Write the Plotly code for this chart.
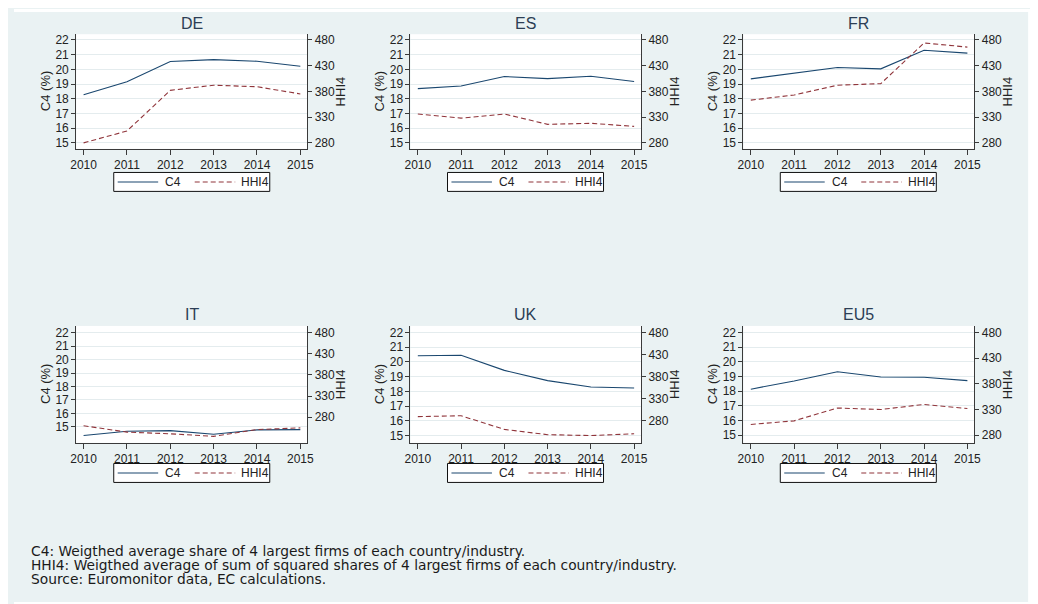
import plotly.graph_objects as go

# ---------------- data ----------------
years = [2010, 2011, 2012, 2013, 2014, 2015]
panels = ["DE", "ES", "FR", "IT", "UK", "EU5"]

c4_de = [18.27, 19.15, 20.53, 20.66, 20.55, 20.21]
hhi4_de = [280, 303, 382, 392, 389, 375]
c4_es = [18.69, 18.87, 19.51, 19.37, 19.53, 19.17]
hhi4_es = [336, 328, 336, 316, 318, 312]
c4_fr = [19.35, 19.71, 20.12, 20.03, 21.30, 21.10]
hhi4_fr = [363, 373, 392, 395, 474, 466]
c4_it = [14.36, 14.68, 14.73, 14.46, 14.78, 14.80]
hhi4_it = [260, 245, 241, 235, 251, 255]
c4_uk = [20.42, 20.46, 19.43, 18.73, 18.30, 18.23]
hhi4_uk = [289, 291, 260, 248, 246, 250]
c4_eu5 = [18.14, 18.70, 19.33, 18.97, 18.95, 18.72]
hhi4_eu5 = [301, 308, 333, 330, 340, 332]

c4_series = [c4_de, c4_es, c4_fr, c4_it, c4_uk, c4_eu5]
hhi4_series = [hhi4_de, hhi4_es, hhi4_fr, hhi4_it, hhi4_uk, hhi4_eu5]

c4_ticks = [15, 16, 17, 18, 19, 20, 21, 22]
hhi4_ticks = [280, 330, 380, 430, 480]

series_names = ["C4", "HHI4"]

footnotes = [
    "C4: Weigthed average share of 4 largest firms of each country/industry.",
    "HHI4: Weigthed average of sum of squared shares of 4 largest firms of each country/industry.",
    "Source: Euromonitor data, EC calculations.",
]

# ---------------- layout geometry (page pixels) ----------------
W, H = 1038, 604
OFF = 8  # page body margin before the figure starts
col_px = [(71, 305), (409.5, 643), (746.7, 980.5)]
row_px = [(33.3, 148.3), (326, 443.3)]
left_ranges = [[14.594, 22.386], [14.594, 22.386], [14.594, 22.386],
               [13.82, 22.49], [14.50, 22.45], [14.48, 22.45]]
right_ranges = [[268.4, 491.0], [268.4, 491.0], [268.4, 491.0],
                [219.6, 495.7], [229.4, 495.1], [265.1, 492.9]]
x_range = [2009.83, 2015.16]
legend_px = [(109, 172), (447, 172), (784, 172), (109, 464), (447, 464), (784, 464)]

C4_COLOR = "#1a476f"
HHI_COLOR = "#90353b"
DASH = "5px,3px"
BG = "#EAF2F3"
AXIS_COLOR = "#3a3a3a"
FONT = "Liberation Sans, Arial, sans-serif"
TXT = "#222222"


def fx(px):
    return (px - OFF) / W


def fy(py):
    return 1 - (py - OFF) / H


fig = go.Figure()
layout = dict(
    width=W, height=H,
    margin=dict(l=0, r=0, t=0, b=0),
    paper_bgcolor=BG,
    plot_bgcolor="white",
    font=dict(family=FONT, size=12, color=TXT),
    showlegend=False,
    annotations=[],
    shapes=[],
)

for i, name in enumerate(panels):
    r, c = divmod(i, 3)
    xn = i + 1
    yl = 2 * i + 1
    yr = 2 * i + 2
    xref = "x" if xn == 1 else f"x{xn}"
    ylref = "y" if yl == 1 else f"y{yl}"
    yrref = f"y{yr}"
    xkey = "xaxis" if xn == 1 else f"xaxis{xn}"
    ylkey = "yaxis" if yl == 1 else f"yaxis{yl}"
    yrkey = f"yaxis{yr}"

    x0, x1 = col_px[c]
    y0, y1 = row_px[r]
    xdom = [fx(x0), fx(x1)]
    ydom = [fy(y1), fy(y0)]

    layout[xkey] = dict(
        domain=xdom, anchor=ylref, range=x_range,
        tickmode="array", tickvals=years, ticktext=[str(y) for y in years],
        ticks="outside", ticklen=5, tickcolor=AXIS_COLOR,
        showline=True, linecolor=AXIS_COLOR, linewidth=1,
        showgrid=False, zeroline=False,
        tickfont=dict(size=12, color=TXT, family=FONT),
    )
    layout[ylkey] = dict(
        domain=ydom, anchor=xref, range=left_ranges[i], side="left",
        tickmode="array", tickvals=c4_ticks,
        ticks="outside", ticklen=4, tickcolor=AXIS_COLOR,
        showline=True, linecolor=AXIS_COLOR, linewidth=1,
        showgrid=True, gridcolor="#E4ECEE", gridwidth=1, zeroline=False,
        tickfont=dict(size=12, color=TXT, family=FONT),
    )
    layout[yrkey] = dict(
        overlaying=ylref, anchor=xref, range=right_ranges[i], side="right",
        tickmode="array", tickvals=hhi4_ticks,
        ticks="outside", ticklen=4, tickcolor=AXIS_COLOR,
        showline=True, linecolor=AXIS_COLOR, linewidth=1,
        showgrid=False, zeroline=False,
        tickfont=dict(size=12, color=TXT, family=FONT),
    )

    fig.add_trace(go.Scatter(
        x=years, y=c4_series[i], mode="lines", name=series_names[0],
        line=dict(color=C4_COLOR, width=1.1),
        xaxis=xref, yaxis=ylref,
    ))
    fig.add_trace(go.Scatter(
        x=years, y=hhi4_series[i], mode="lines", name=series_names[1],
        line=dict(color=HHI_COLOR, width=1.1, dash=DASH),
        xaxis=xref, yaxis=yrref,
    ))

    # panel title
    layout["annotations"].append(dict(
        text=name, x=fx((x0 + x1) / 2), y=fy(y0 - 11), xref="paper", yref="paper",
        xanchor="center", yanchor="middle", showarrow=False,
        font=dict(size=16, color="#2c3e55", family=FONT),
    ))
    # left axis title
    layout["annotations"].append(dict(
        text="C4 (%)", x=fx(x0 - 31), y=fy((y0 + y1) / 2), xref="paper", yref="paper",
        xanchor="center", yanchor="middle", showarrow=False, textangle=-90,
        font=dict(size=13, color=TXT, family=FONT),
    ))
    # right axis title
    layout["annotations"].append(dict(
        text="HHI4", x=fx(x1 + 34), y=fy((y0 + y1) / 2), xref="paper", yref="paper",
        xanchor="center", yanchor="middle", showarrow=False, textangle=-90,
        font=dict(size=13, color=TXT, family=FONT),
    ))

    # legend box (one per panel, Stata style)
    lx, ly = legend_px[i]
    ym = ly + 9.5
    layout["shapes"].append(dict(
        type="rect", xref="paper", yref="paper",
        x0=fx(lx), x1=fx(lx + 158), y0=fy(ly + 19), y1=fy(ly),
        fillcolor="white", line=dict(color="#111111", width=1), layer="above",
    ))
    layout["shapes"].append(dict(
        type="line", xref="paper", yref="paper",
        x0=fx(lx + 4), x1=fx(lx + 45), y0=fy(ym), y1=fy(ym),
        line=dict(color=C4_COLOR, width=1.1), layer="above",
    ))
    layout["shapes"].append(dict(
        type="line", xref="paper", yref="paper",
        x0=fx(lx + 82), x1=fx(lx + 123), y0=fy(ym), y1=fy(ym),
        line=dict(color=HHI_COLOR, width=1.1, dash=DASH), layer="above",
    ))
    layout["annotations"].append(dict(
        text=series_names[0], x=fx(lx + 50), y=fy(ym), xref="paper", yref="paper",
        xanchor="left", yanchor="middle", showarrow=False,
        font=dict(size=12, color=TXT, family=FONT),
    ))
    layout["annotations"].append(dict(
        text=series_names[1], x=fx(lx + 127), y=fy(ym), xref="paper", yref="paper",
        xanchor="left", yanchor="middle", showarrow=False,
        font=dict(size=12, color=TXT, family=FONT),
    ))

# footnotes
for k, line in enumerate(footnotes):
    layout["annotations"].append(dict(
        text=line, x=fx(23), y=fy(551.8 + 14.2 * k), xref="paper", yref="paper",
        xanchor="left", yanchor="middle", showarrow=False,
        font=dict(size=13.8, color="#1a1a1a", family="DejaVu Sans, sans-serif"),
    ))

# white outer strips (page background outside the graph region)
layout["shapes"] += [
    dict(type="rect", xref="paper", yref="paper", x0=0, x1=1, y0=fy(11), y1=1,
         fillcolor="white", line=dict(width=0), layer="below"),
    dict(type="rect", xref="paper", yref="paper", x0=fx(1035), x1=1, y0=0, y1=1,
         fillcolor="white", line=dict(width=0), layer="below"),
    dict(type="rect", xref="paper", yref="paper", x0=0, x1=1, y0=0, y1=fy(603),
         fillcolor="white", line=dict(width=0), layer="below"),
]

fig.update_layout(**layout)
fig.write_html("out.html")
